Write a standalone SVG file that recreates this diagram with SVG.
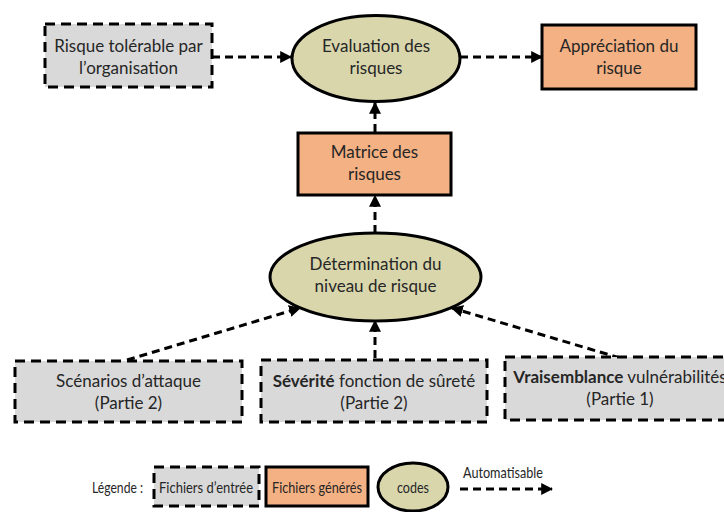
<svg xmlns="http://www.w3.org/2000/svg" width="724" height="512" viewBox="0 0 724 512">
<defs>
<style>
text{font-family:Lato,"Open Sans","Liberation Sans",sans-serif;font-size:17px;fill:#262626;text-anchor:middle}
.in{fill:#D9D9D9;stroke:#000;stroke-width:3;stroke-dasharray:10 6}
.gen{fill:#F4B183;stroke:#000;stroke-width:3}
.code{fill:#D9D6AC;stroke:#000;stroke-width:3}
.arr{fill:none;stroke:#000;stroke-width:3;stroke-dasharray:8 5;marker-end:url(#ah)}
.leg{font-size:16px}
</style>
<marker id="ah" viewBox="0 0 10 10" refX="9" refY="5" markerWidth="4" markerHeight="4" orient="auto" markerUnits="strokeWidth">
<path d="M0,0 L10,5 L0,10 z" fill="#000"/>
</marker>
</defs>
<rect width="724" height="512" fill="#fff"/>
<g id="connectors">
<line class="arr" x1="212" y1="57" x2="291" y2="57"/>
<line class="arr" x1="460" y1="57" x2="542" y2="57"/>
<line class="arr" x1="375" y1="132" x2="375" y2="103"/>
<line class="arr" x1="375" y1="233" x2="375" y2="196"/>
<line class="arr" x1="127" y1="360" x2="300" y2="308"/>
<line class="arr" x1="375" y1="358" x2="375" y2="321"/>
<line class="arr" x1="620" y1="358" x2="452" y2="308"/>
</g>
<g id="risque-tolerable">
<rect class="in" x="45" y="24" width="167" height="63"/>
<text x="128.5" y="52">Risque tolérable par</text>
<text x="128.5" y="74">l’organisation</text>
</g>
<g id="evaluation">
<ellipse class="code" cx="376" cy="58.5" rx="84" ry="43"/>
<text x="376" y="52">Evaluation des</text>
<text x="376" y="74">risques</text>
</g>
<g id="appreciation">
<rect class="gen" x="542" y="25" width="154" height="64"/>
<text x="619" y="52">Appréciation du</text>
<text x="619" y="74">risque</text>
</g>
<g id="matrice">
<rect class="gen" x="298" y="133" width="153" height="62"/>
<text x="374.5" y="158">Matrice des</text>
<text x="374.5" y="180">risques</text>
</g>
<g id="determination">
<ellipse class="code" cx="375.5" cy="277" rx="105.5" ry="44"/>
<text x="375.5" y="270">Détermination du</text>
<text x="375.5" y="292">niveau de risque</text>
</g>
<g id="scenarios">
<rect class="in" x="15" y="361" width="227" height="61"/>
<text x="128.5" y="387">Scénarios d’attaque</text>
<text x="128.5" y="409">(Partie 2)</text>
</g>
<g id="severite">
<rect class="in" x="261" y="360" width="226" height="62"/>
<text x="374" y="387"><tspan font-weight="bold">Sévérité</tspan> fonction de sûreté</text>
<text x="374" y="409">(Partie 2)</text>
</g>
<g id="vraisemblance">
<rect class="in" x="505" y="357" width="232" height="63"/>
<text x="620" y="383"><tspan font-weight="bold">Vraisemblance</tspan> vulnérabilités</text>
<text x="620" y="405">(Partie 1)</text>
</g>
<g id="legende">
<text class="leg" x="92" y="493" style="text-anchor:start" textLength="51" lengthAdjust="spacingAndGlyphs">Légende :</text>
<rect class="in" x="154" y="467" width="105" height="39"/>
<text class="leg" x="206" y="493" textLength="94" lengthAdjust="spacingAndGlyphs">Fichiers d’entrée</text>
<rect class="gen" x="266" y="467" width="102" height="39"/>
<text class="leg" x="317" y="493" textLength="90" lengthAdjust="spacingAndGlyphs">Fichiers générés</text>
<ellipse class="code" cx="413" cy="487" rx="35" ry="24"/>
<text class="leg" x="413" y="493" textLength="32" lengthAdjust="spacingAndGlyphs">codes</text>
<text class="leg" x="463" y="478" style="text-anchor:start" textLength="80" lengthAdjust="spacingAndGlyphs">Automatisable</text>
<line class="arr" x1="460" y1="489" x2="552" y2="489"/>
</g>
</svg>
